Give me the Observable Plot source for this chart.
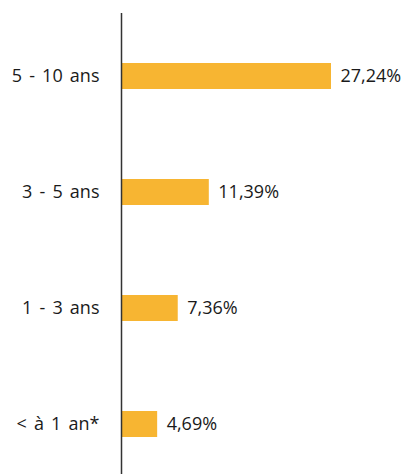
<!DOCTYPE html>
<html>
<head>
<meta charset="utf-8">
<script src="https://cdn.jsdelivr.net/npm/d3@7"></script>
<script src="https://cdn.jsdelivr.net/npm/@observablehq/plot@0.6"></script>
<style>
  html, body { margin: 0; padding: 0; background: #fff; }
  #chart svg { display: block; }
  #chart g[aria-label="y-axis tick label"] text { word-spacing: 2.5px; }
</style>
</head>
<body>
<div id="chart"></div>
<script>
const categories = ["5 - 10 ans", "3 - 5 ans", "1 - 3 ans", "< à 1 an*"];
const values = [27.24, 11.39, 7.36, 4.69];
const labels = ["27,24%", "11,39%", "7,36%", "4,69%"];

const data = categories.map((c, i) => ({cat: c, value: values[i], label: labels[i]}));

const chart = Plot.plot({
  width: 404,
  height: 474,
  marginLeft: 121,
  marginRight: 73,
  marginTop: 62,
  marginBottom: 35.5,
  style: {fontFamily: "'Open Sans', sans-serif", fontSize: "18px", color: "#1a1a1a", background: "#fff"},
  x: {domain: [0, 27.24], axis: null},
  y: {domain: categories, paddingInner: 0.777, paddingOuter: 0, label: null},
  marks: [
    Plot.barX(data, {x: "value", y: "cat", fill: "#F7B532"}),
    Plot.text(data, {x: "value", y: "cat", text: "label", textAnchor: "start", dx: 9, fontSize: 18, fill: "#1a1a1a"}),
    Plot.ruleX([0], {stroke: "#333", strokeWidth: 1.5, insetTop: -49, insetBottom: -36}),
    Plot.axisY({tickSize: 0, tickPadding: 22, fontSize: 18, fill: "#1a1a1a", label: null})
  ]
});
document.getElementById("chart").appendChild(chart);
</script>
</body>
</html>
